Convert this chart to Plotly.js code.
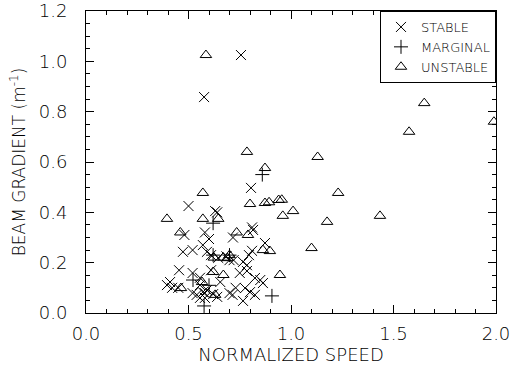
<!DOCTYPE html>
<html>
<head>
<meta charset="utf-8">
<script src="https://cdn.plot.ly/plotly-3.0.1.min.js"></script>
<style>html,body{margin:0;padding:0;background:#fff;}#chart{width:516px;height:375px;}</style>
</head>
<body>
<div id="chart"></div>
<script>
// STABLE (x)
const stableX = [0.756,0.576,0.805,0.50,0.63,0.64,0.81,0.815,0.48,0.58,0.60,0.717,0.473,0.52,0.57,0.59,0.61,0.645,0.685,0.70,0.72,0.795,0.766,0.785,0.81,0.873,0.454,0.52,0.556,0.61,0.655,0.75,0.785,0.824,0.85,0.863,0.41,0.395,0.45,0.556,0.54,0.556,0.58,0.59,0.52,0.57,0.62,0.64,0.70,0.715,0.776,0.80,0.824,0.766,0.58,0.42,0.73];
const stableY = [1.025,0.858,0.497,0.425,0.405,0.40,0.34,0.33,0.31,0.32,0.294,0.30,0.243,0.25,0.27,0.243,0.23,0.219,0.225,0.21,0.21,0.23,0.203,0.19,0.247,0.278,0.17,0.159,0.14,0.17,0.123,0.159,0.167,0.139,0.131,0.119,0.123,0.111,0.10,0.111,0.072,0.06,0.079,0.091,0.079,0.083,0.075,0.064,0.079,0.072,0.099,0.083,0.072,0.048,0.06,0.10,0.10];
// MARGINAL (+)
const marginalX = [0.86,0.62,0.62,0.522,0.576,0.907,0.70,0.60];
const marginalY = [0.55,0.357,0.23,0.131,0.028,0.068,0.23,0.11];
// UNSTABLE (triangles)
const unstableX = [0.585,0.785,1.13,0.873,1.65,1.576,1.99,1.23,0.955,1.01,0.96,1.176,1.434,1.10,0.57,0.80,0.873,0.893,0.94,0.57,0.645,0.395,0.735,0.79,0.46,0.863,0.897,0.946,0.62,0.67,0.67,0.69,0.70,0.624,0.463,0.566,0.63];
const unstableY = [1.025,0.64,0.62,0.576,0.834,0.72,0.76,0.477,0.45,0.405,0.386,0.362,0.386,0.258,0.477,0.433,0.437,0.44,0.449,0.374,0.374,0.374,0.32,0.31,0.32,0.25,0.246,0.151,0.163,0.151,0.22,0.218,0.23,0.22,0.099,0.123,0.072];

const xTickVals = [0, 0.5, 1.0, 1.5, 2.0];
const xTickText = ['0.0', '0.5', '1.0', '1.5', '2.0'];
const yTickVals = [0, 0.2, 0.4, 0.6, 0.8, 1.0, 1.2];
const yTickText = ['0.0', '0.2', '0.4', '0.6', '0.8', '1.0', '1.2'];

const FONT = 'DejaVu Sans, Liberation Sans, sans-serif';
const ink = '#000';

const traces = [
  {x: stableX, y: stableY, name: 'STABLE', type: 'scatter', mode: 'markers',
   marker: {symbol: 'x-thin-open', size: 10, color: ink, line: {color: ink, width: 1}}},
  {x: marginalX, y: marginalY, name: 'MARGINAL', type: 'scatter', mode: 'markers',
   marker: {symbol: 'cross-thin-open', size: 10, color: ink, line: {color: ink, width: 1}}},
  {x: unstableX, y: unstableY, name: 'UNSTABLE', type: 'scatter', mode: 'markers',
   marker: {symbol: 'triangle-up-open', size: 10, color: ink, line: {color: ink, width: 1}}}
];

const axisCommon = {
  showgrid: false, zeroline: false, showline: true, linecolor: ink, linewidth: 1,
  mirror: 'ticks', ticks: 'inside', ticklen: 8, tickwidth: 1, tickcolor: ink,
  tickfont: {family: FONT, size: 18, color: '#000', weight: 300}
};

const layout = {
  width: 516, height: 375,
  margin: {l: 86, r: 20, t: 11, b: 62},
  paper_bgcolor: '#fff', plot_bgcolor: '#fff',
  showlegend: true,
  legend: {x: 1, xanchor: 'right', y: 1, yanchor: 'top', bgcolor: '#fff',
           bordercolor: ink, borderwidth: 1, font: {family: FONT, size: 13, color: '#000', weight: 300},
           itemwidth: 30, tracegroupgap: 0},
  xaxis: Object.assign({}, axisCommon, {
    range: [0, 2.0], tickvals: xTickVals, ticktext: xTickText,
    ticklabelstandoff: 4,
    minor: {dtick: 0.1, ticklen: 4, ticks: 'inside', tickcolor: ink, showgrid: false},
    title: {text: 'NORMALIZED SPEED', font: {family: FONT, size: 18, color: '#000', weight: 300}, standoff: 2}
  }),
  yaxis: Object.assign({}, axisCommon, {
    range: [0, 1.2], tickvals: yTickVals, ticktext: yTickText,
    ticklabelstandoff: 14,
    minor: {dtick: 0.05, ticklen: 4, ticks: 'inside', tickcolor: ink, showgrid: false},
    title: {text: 'BEAM GRADIENT (m<sup>-1</sup>)', font: {family: FONT, size: 17, color: '#000', weight: 300}, standoff: 8}
  })
};

Plotly.newPlot('chart', traces, layout, {displayModeBar: false, staticPlot: true});
</script>
</body>
</html>
